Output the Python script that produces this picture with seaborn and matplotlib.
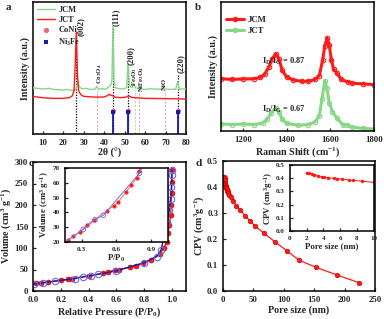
import numpy as np
import pandas as pd
import matplotlib
matplotlib.use("Agg")
import matplotlib.pyplot as plt
import seaborn as sns

# ---------------- data ----------------
# (a) XRD
xrd_jcm_x = [5, 8, 10, 13, 15, 18, 20, 22, 24, 26, 26.6, 27.2, 27.8, 29, 31, 33, 35.5, 36.4, 37.2, 39, 41,
             42.5, 43.2, 43.8, 44.3, 44.8, 45.5, 47, 49, 51, 51.7, 52.3, 53.5, 54.5, 55.3, 57, 60, 63, 66,
             69, 72, 75, 76.0, 76.6, 78, 80]
xrd_jcm_y = [35, 34.5, 34, 34.6, 33.8, 33.5, 33.2, 33.8, 33, 33.5, 36, 40, 36, 34.2, 34.6, 33.8, 34, 36, 34,
             34.3, 34, 36, 37, 40, 82, 40, 35, 34.5, 34, 35, 54, 37, 35, 38, 35, 34.4, 33.8, 34.3, 33.9,
             34.2, 33.8, 34, 40, 34, 34.2, 34]
xrd_jct_x = [5, 10, 15, 20, 23, 24.5, 25.3, 25.8, 26.4, 27, 27.5, 28.5, 30, 35, 40, 41.5, 42.3, 43, 44.3,
             45, 48, 51, 52, 53, 55, 60, 70, 80]
xrd_jct_y = [28.5, 27.5, 27, 27, 27.5, 29, 33, 50, 77, 45, 33, 30, 28.5, 28, 28, 29, 30, 29.5, 29, 28,
             27.5, 28, 29, 28, 27.5, 27, 26.8, 26.5]
ref_pos = [44.3, 51.6, 76.1]
peak_lines = [26.4, 44.3, 51.7, 76.0]
peak_tops = [74, 80, 52, 45]
impurity_pos = [36.5, 57.1, 69.6]
fe2o3_pos = 54.9
xrd_labels = ["(002)", "(111)", "(200)", "(220)", "Co$_3$O$_4$", "Fe$_2$O$_3$", "NiFe$_2$O$_4$", "NiO"]
xrd_label_x = [28.7, 45.9, 52.9, 77.7, 37.7, 54.7, 58.5, 69.4]
xrd_label_y = [74, 82, 52.5, 46, 37.5, 36, 32, 33]

# (b) Raman
raman_jcm_x = [1100, 1150, 1200, 1250, 1280, 1300, 1320, 1335, 1350, 1365, 1380, 1400, 1430, 1470, 1500,
               1530, 1550, 1565, 1575, 1585, 1595, 1605, 1615, 1630, 1650, 1680, 1700, 1750, 1800]
raman_jcm_y = [40.5, 40, 40.3, 40.5, 41.5, 44, 50, 56, 60, 56, 47, 42, 39.5, 38.5, 38.5, 40, 43, 55, 66,
               72, 67, 55, 48, 45, 40, 38, 37, 36.5, 36]
raman_jct_x = [1100, 1150, 1200, 1250, 1290, 1310, 1330, 1350, 1365, 1380, 1400, 1450, 1500, 1530, 1550,
               1562, 1575, 1585, 1595, 1610, 1630, 1660, 1675, 1700, 1750, 1800]
raman_jct_y = [5.5, 5, 5.5, 5, 6, 9, 14, 18, 15, 9, 6, 4.5, 5, 7, 12, 25, 39, 33, 22, 15, 10, 4.5, 5, 3,
               2, 1.5]

# (c) N2 isotherm
ads_p = [0.02, 0.06, 0.11, 0.2, 0.25, 0.28, 0.4, 0.5, 0.54, 0.59, 0.62, 0.7, 0.74, 0.79, 0.85, 0.91, 0.94,
         0.96, 0.97, 0.98, 0.99, 0.993, 0.996, 0.998, 1.0]
ads_v = [17.8, 19, 21, 25.5, 27, 29, 35, 41, 44, 49, 50, 55, 58, 64, 73, 87, 99, 114, 134, 153, 176, 200,
         227, 254, 281]
des_p = [1.0, 0.998, 0.995, 0.99, 0.98, 0.965, 0.945, 0.92, 0.89, 0.8, 0.6, 0.47, 0.42, 0.36, 0.3, 0.16,
         0.07, 0.007]
des_v = [281, 269, 242, 215, 188, 161, 130, 95, 80, 66, 47, 39, 36, 33, 29, 23, 19, 15.5]
ins_ads_p = [0.184, 0.228, 0.285, 0.343, 0.41, 0.516, 0.58, 0.617, 0.683, 0.73, 0.775, 0.80, 0.83]
ins_ads_v = [21.2, 24, 27, 31.5, 35, 41, 44.6, 47, 53.7, 58.3, 63, 68, 72]
ins_des_p = [0.16, 0.314, 0.415, 0.487, 0.8, 0.83]
ins_des_v = [20, 28.5, 35, 38, 66.5, 72]

# (d) pore size distribution
pore_small = [2.0, 2.3, 2.6, 2.9, 3.4, 3.8, 4.1, 4.6, 5.3, 5.6, 6.2, 7.1, 7.5, 8.6, 10.0]
cpv_small = [0.44, 0.437, 0.433, 0.428, 0.417, 0.412, 0.407, 0.404, 0.399, 0.397, 0.394, 0.386, 0.384,
             0.378, 0.368]
pore_large = [13.7, 16, 22, 28.6, 36, 44, 52.7, 67.6, 85, 105.5, 124.7, 153, 187, 223.6]
cpv_large = [0.36, 0.347, 0.328, 0.312, 0.29, 0.271, 0.25, 0.222, 0.19, 0.154, 0.119, 0.091, 0.062, 0.032]

# ---------------- style ----------------
sns.set_style("ticks")
plt.rcParams['font.family'] = ['Liberation Serif', 'DejaVu Serif']
plt.rcParams['font.weight'] = 'bold'
plt.rcParams['axes.labelweight'] = 'bold'
plt.rcParams['mathtext.fontset'] = 'custom'
plt.rcParams['mathtext.rm'] = 'Liberation Serif:bold'
plt.rcParams['mathtext.it'] = 'Liberation Serif:bold'
plt.rcParams['mathtext.bf'] = 'Liberation Serif:bold'
plt.rcParams['xtick.direction'] = 'in'
plt.rcParams['ytick.direction'] = 'in'
plt.rcParams['axes.linewidth'] = 1.1

RED = "#ff1a1a"
GREEN = "#86d886"
BLUE = "#1a1aa6"
PINK = "#f06080"

fig = plt.figure(figsize=(3.84, 3.19), dpi=100)
W, H = 384, 319


def add_ax(l, t, r, b):
    return fig.add_axes([l / W, 1 - b / H, (r - l) / W, (b - t) / H])


def style(ax, lab=7.2, tick=6.3):
    ax.tick_params(labelsize=tick, width=0.9, length=2.5)
    ax.xaxis.label.set_size(lab)
    ax.yaxis.label.set_size(lab)
    for s in ax.spines.values():
        s.set_color('black')


# ---------------- (a) ----------------
ax = add_ax(32.5, 2, 186, 134)
for x, t in zip(peak_lines, peak_tops):
    ax.plot([x, x], [0, t], ls=(0, (1, 1.2)), color='black', lw=0.9, zorder=1)
for x in impurity_pos:
    ax.plot([x, x], [0, 33], ls=(0, (2, 1.5)), color="#f4a0b0", lw=0.8, zorder=1)
ax.plot([fe2o3_pos, fe2o3_pos], [0, 33], ls=(0, (2, 1.5)), color="#b0e0b0", lw=0.8, zorder=1)
for x in ref_pos:
    ax.plot([x, x], [0, 16.5], color=BLUE, lw=1.3, zorder=2)
sns.lineplot(x=xrd_jcm_x, y=xrd_jcm_y, ax=ax, color=GREEN, lw=1.0, label="JCM", zorder=3)
sns.lineplot(x=xrd_jct_x, y=xrd_jct_y, ax=ax, color=RED, lw=1.0, label="JCT", zorder=3)
sns.scatterplot(x=ref_pos, y=[17.5] * 3, ax=ax, color=PINK, s=14, marker='o', linewidth=0,
                label="CoNi", zorder=4)
sns.scatterplot(x=ref_pos, y=[16.3] * 3, ax=ax, color=BLUE, s=12, marker='s', linewidth=0,
                label="Ni$_3$Fe", zorder=5)
for t, x, y in zip(xrd_labels, xrd_label_x, xrd_label_y):
    ax.text(x, y, t, rotation=90, ha='center', va='bottom', fontsize=6.2 if t.startswith("(") else 4.9)
ax.set_xlim(5, 80)
ax.set_ylim(0, 100)
ax.set_yticks([])
ax.set_xticks([10, 20, 30, 40, 50, 60, 70, 80])
ax.set_xlabel("2θ (°)", labelpad=1)
ax.set_ylabel("Intensity (a.u.)", labelpad=2)
ax.legend(loc='upper left', frameon=False, fontsize=6, handlelength=2.2, labelspacing=0.25,
          borderaxespad=0.1, handletextpad=0.4)
style(ax)
fig.text(6 / W, 1 - 8 / H, "a", fontsize=8, fontweight='bold', va='center')

# ---------------- (b) ----------------
ax = add_ax(221, 2, 374, 131)
sns.lineplot(x=raman_jcm_x, y=raman_jcm_y, ax=ax, color=RED, lw=2.2, marker='o', ms=3.2,
             mfc='none', mec=RED, mew=0.8, label="JCM")
sns.lineplot(x=raman_jct_x, y=raman_jct_y, ax=ax, color=GREEN, lw=2.2, marker='o', ms=3.2,
             mfc='none', mec=GREEN, mew=0.8, label="JCT")
ax.text(1288, 54, r"$\mathregular{I_D/I_G}$ = 0.87", fontsize=6, va='center')
ax.text(1288, 16.5, r"$\mathregular{I_D/I_G}$ = 0.67", fontsize=6, va='center')
ax.set_xlim(1100, 1800)
ax.set_ylim(0, 100)
ax.set_yticks([])
ax.set_xticks([1200, 1400, 1600, 1800])
ax.set_xlabel("Raman Shift (cm$^{-1}$)", labelpad=1)
ax.set_ylabel("Intensity (a.u.)", labelpad=2)
ax.legend(loc='upper left', frameon=False, fontsize=6.3, handlelength=2.0, labelspacing=0.3,
          bbox_to_anchor=(0.0, 0.93), borderaxespad=0.2, handletextpad=0.4)
style(ax)
fig.text(195 / W, 1 - 8 / H, "b", fontsize=8, fontweight='bold', va='center')

# ---------------- (c) ----------------
ax = add_ax(33, 162, 186, 291)
sns.lineplot(x=ads_p, y=ads_v, ax=ax, color=RED, lw=1.0, sort=False, marker='o', ms=3.6,
             mfc=RED, mec="#b00000", mew=0.4)
sns.lineplot(x=des_p, y=des_v, ax=ax, color=BLUE, lw=1.0, sort=False, marker='o', ms=4.6,
             mfc='none', mec="#6a6af0", mew=0.8)
ax.set_xlim(0, 1.1)
ax.set_ylim(0, 300)
ax.set_xticks([0.0, 0.2, 0.4, 0.6, 0.8, 1.0])
ax.set_yticks([0, 50, 100, 150, 200, 250, 300])
ax.set_xlabel("Relative Pressure (P/P$_0$)", labelpad=1)
ax.set_ylabel("Volume (cm$^3$ g$^{-1}$)", labelpad=1)
style(ax)
fig.text(29 / W, 1 - 164 / H, "c", fontsize=8, fontweight='bold', va='center')

axi = add_ax(65, 168, 168, 242)
sns.lineplot(x=ins_ads_p, y=ins_ads_v, ax=axi, color="#ff7070", lw=0.7, marker='o', ms=2.6,
             mfc=RED, mec=RED, mew=0.3)
sns.lineplot(x=ins_des_p, y=ins_des_v, ax=axi, color="#7070e8", lw=0.7)
sns.scatterplot(x=ins_des_p[1:-1], y=ins_des_v[1:-1], ax=axi, s=12, facecolor='none',
                edgecolor="#7070e8", linewidth=0.6)
axi.set_xlim(0.156, 1.047)
axi.set_ylim(20, 70)
axi.set_xticks([0.3, 0.6, 0.9])
axi.set_yticks([20, 30, 40, 50, 60, 70])
axi.set_xlabel("P/P$_0$", labelpad=1)
axi.set_ylabel("Volume (cm$^3$ g$^{-1}$)", labelpad=1)
style(axi, lab=6.3, tick=5.2)

# ---------------- (d) ----------------
ax = add_ax(223, 161, 375, 291)
pore_all = pore_small + pore_large
cpv_all = cpv_small + cpv_large
sns.lineplot(x=pore_all, y=cpv_all, ax=ax, color=RED, lw=0.9, marker='o', ms=3.4,
             mfc=RED, mec="#c00000", mew=0.4)
ax.set_xlim(0, 250)
ax.set_ylim(0, 0.5)
ax.set_xticks([0, 50, 100, 150, 200, 250])
ax.set_yticks([0.0, 0.1, 0.2, 0.3, 0.4, 0.5])
ax.set_xlabel("Pore size (nm)", labelpad=1)
ax.set_ylabel("CPV (cm$^3$g$^{-1}$)", labelpad=1)
style(ax)
fig.text(195 / W, 1 - 164 / H, "d", fontsize=8, fontweight='bold', va='center')

axi = add_ax(289.7, 165, 373.7, 231)
sns.lineplot(x=pore_small, y=cpv_small, ax=axi, color=RED, lw=0.7, marker='o', ms=2.2,
             mfc=RED, mec=RED, mew=0.3)
axi.set_xlim(0, 10)
axi.set_ylim(0, 0.5)
axi.set_xticks([0, 2, 4, 6, 8, 10])
axi.set_yticks([0.0, 0.1, 0.2, 0.3, 0.4, 0.5])
axi.set_xlabel("Pore size (nm)", labelpad=1)
axi.set_ylabel("CPV (cm$^3$g$^{-1}$)", labelpad=1)
style(axi, lab=6.3, tick=5.0)

fig.savefig("out.png", dpi=100)
